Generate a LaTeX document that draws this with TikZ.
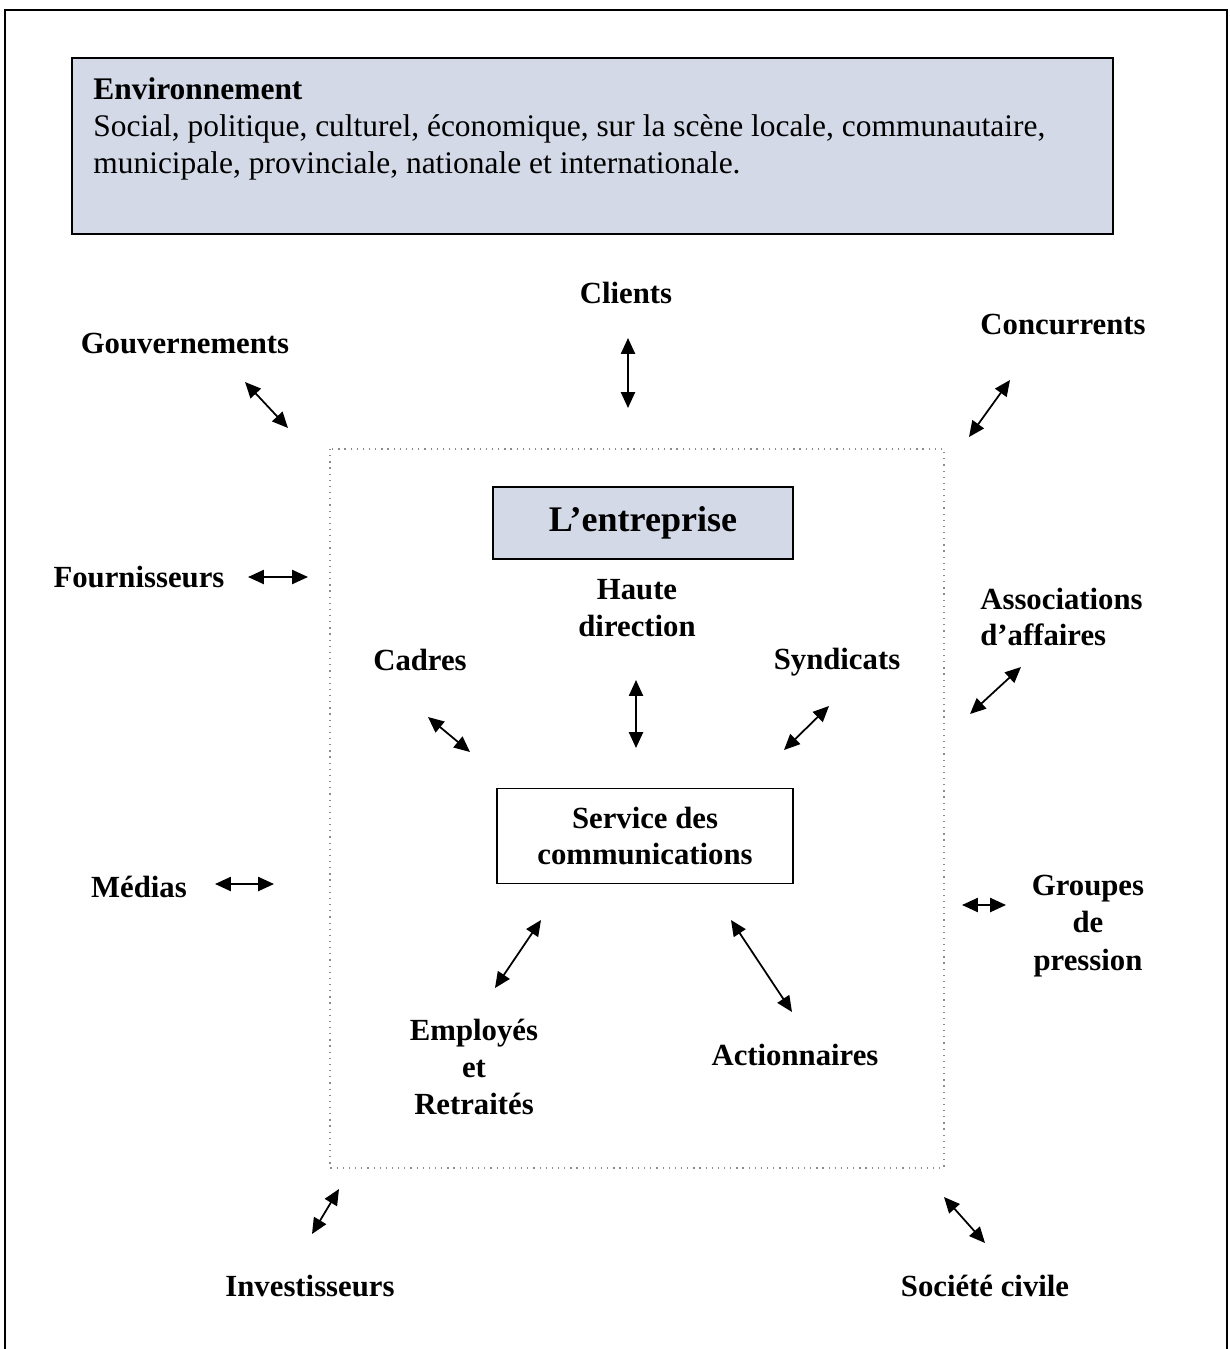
\documentclass[tikz,border=0pt]{standalone}
\usepackage{fontspec}
\setmainfont{Liberation Serif}
\usetikzlibrary{arrows.meta}
\definecolor{boxblue}{HTML}{D3D9E6}
\newcommand{\labfont}{\fontsize{17.5}{21}\selectfont\bfseries}

\begin{document}
\begin{tikzpicture}[x=0.02cm, y=-0.02cm,
    every node/.style={font=\labfont, align=center, inner sep=0pt},
    shadedbox/.style={draw, line width=1pt, fill=boxblue},
    plainbox/.style={draw, line width=0.8pt},
    biarrow/.style={{Triangle[length=9pt,width=8pt]}-{Triangle[length=9pt,width=8pt]}, line width=1pt},
    dotframe/.style={gray!90, line width=0.7pt, dash pattern=on 0.7pt off 2.8pt}]
    \useasboundingbox (0,0) rectangle (1230,1349);

    % Outer frame (open at the bottom)
    \draw[line width=1pt] (5,1349) -- (5,10) -- (1227,10) -- (1227,1349);

    % Environnement
    \node[shadedbox, minimum width=20.82cm, minimum height=3.52cm, anchor=north west] (env) at (71,57) {};
    \node[anchor=north west, align=left, font=\fontsize{17.9}{21.2}\selectfont] (envtxt) at (93,77)
        {\textbf{Environnement}\\
         Social, politique, culturel, économique, sur la scène locale, communautaire,\\
         municipale, provinciale, nationale et internationale.};

    % Inner dotted frame
    \draw[dotframe] (330,449) rectangle (944,1168);

    % Central boxes
    \node[shadedbox, minimum width=6cm, minimum height=1.44cm, font=\fontsize{20.5}{24}\selectfont\bfseries] (entreprise) at (643,523) {L’entreprise};
    \node[plainbox, minimum width=5.92cm, minimum height=1.9cm] (service) at (645,836) {Service des\\communications};

    % Stakeholders outside
    \node (clients) at (626,293) {Clients};
    \node (gouv) at (185,344) {Gouvernements};
    \node (concur) at (1063,325) {Concurrents};
    \node (fourn) at (139,577) {Fournisseurs};
    \node[anchor=west, align=left] (assoc) at (980,617) {Associations\\d’affaires};
    \node (medias) at (139,887) {Médias};
    \node[font=\fontsize{17.5}{21.5}\selectfont\bfseries] (groupes) at (1088,926) {Groupes\\de\\pression};
    \node (invest) at (310,1286) {Investisseurs};
    \node (societe) at (985,1286) {Société civile};

    % Stakeholders inside
    \node (cadres) at (420,660) {Cadres};
    \node (haute) at (637,608) {Haute\\direction};
    \node (syndic) at (837,662) {Syndicats};
    \node (employes) at (474,1067) {Employés\\et\\Retraités};
    \node (action) at (795,1055) {Actionnaires};

    % Double arrows
    \foreach \n/\ax/\ay/\bx/\by in {gouv/245/382/288/428, clients/628/338/628/408,
        concur/1010/380/969/437, fourn/248/577/308/577, assoc/1021/667/970/714,
        cadres/428/717/470/752, haute/636/680/636/748, syndic/829/706/784/750,
        medias/215/884/274/884, groupes/962/905/1006/905, employes/541/920/495/988,
        action/731/920/792/1012, invest/339/1189/312/1234, societe/944/1197/985/1243} {
        \coordinate (\n-a) at (\ax,\ay);
        \coordinate (\n-b) at (\bx,\by);
        \draw[biarrow] (\n-a) -- (\n-b);
    }
\end{tikzpicture}
\end{document}
